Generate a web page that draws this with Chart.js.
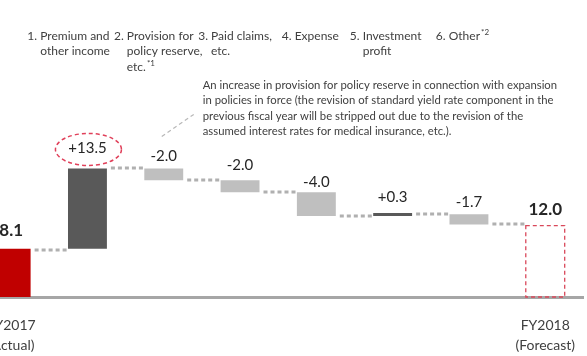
<!DOCTYPE html>
<html>
<head>
<meta charset="utf-8">
<script src="https://cdn.jsdelivr.net/npm/chart.js@4.4.0/dist/chart.umd.min.js"></script>
<style>
  html, body { margin: 0; padding: 0; background: #fff; overflow: hidden; }
  #wrap { position: relative; width: 587px; height: 356px; overflow: hidden; }
  /* the first bar is cut off by the left edge in the original slide */
  #myChart { position: absolute; left: -31px; top: 0; }
</style>
</head>
<body>
<div id="wrap"><canvas id="myChart" width="624" height="356"></canvas></div>
<script>
// chart data
const categories = ['FY2017 (Actual)', 'Premium and other income', 'Provision for policy reserve, etc.',
  'Paid claims, etc.', 'Expense', 'Investment profit', 'Other', 'FY2018 (Forecast)'];
const tickLabels = [['FY2017', '(Actual)'], '', '', '', '', '', '', ['FY2018', '(Forecast)']];
const startValue = 8.1;
const changes = [13.5, -2.0, -2.0, -4.0, 0.3, -1.7];
const endValue = 12.0;
const valueLabels = ['8.1', '+13.5', '-2.0', '-2.0', '-4.0', '+0.3', '-1.7', '12.0'];

// header text above the steps, [text, superscript]
const topLabels = [
  null,
  [['1. Premium and'], ['other income']],
  [['2. Provision for'], ['policy reserve,'], ['etc.', '*1']],
  [['3. Paid claims,'], ['etc.']],
  [['4. Expense']],
  [['5. Investment'], ['profit']],
  [['6. Other', '*2']],
  null
];
const noteLines = [
  'An increase in provision for policy reserve in connection with expansion',
  'in policies in force (the revision of standard yield rate component in the',
  'previous fiscal year will be stripped out due to the revision of the',
  'assumed interest rates for medical insurance, etc.).'
];

// build floating bars from the running total
let running = startValue;
const bars = [[0, startValue]];
const levels = [startValue];
changes.forEach(c => {
  bars.push([running, running + c]);
  running = running + c;
  levels.push(running);
});
bars.push([0, endValue]);
levels.push(endValue);

const barColors = ['#c00000', '#595959', '#bfbfbf', '#bfbfbf', '#bfbfbf', '#595959', '#bfbfbf', 'rgba(0,0,0,0)'];

const FONT = 'Lato, "Open Sans", sans-serif';
// nudge of each header label from its bar centre
const headerShift = [0, -19, -10, -5, -6, -7, -11, 0];
// space between a bar top and its value label
const labelGap = [10, 13, 5, 8, 3, 8, 5, 8];

// draws connectors, labels and notes from the bar elements
const waterfallExtras = {
  id: 'waterfallExtras',
  afterDatasetsDraw(chart) {
    const ctx = chart.ctx;
    const meta = chart.getDatasetMeta(0);
    const y = chart.scales.y;
    const els = meta.data;
    ctx.save();

    // dotted connectors
    ctx.strokeStyle = '#b0b0b0';
    ctx.lineWidth = 3;
    ctx.setLineDash([4, 3]);
    for (let i = 0; i < els.length - 1; i++) {
      const a = els[i], b = els[i + 1];
      const py = Math.round(y.getPixelForValue(levels[i])) + (i === 0 ? 1 : 0);
      ctx.beginPath();
      ctx.moveTo(a.x + a.width / 2 + 4, py);
      ctx.lineTo(b.x - b.width / 2, py);
      ctx.stroke();
    }

    // forecast bar: dashed outline
    const last = els[els.length - 1];
    ctx.strokeStyle = '#d9485a';
    ctx.lineWidth = 1.3;
    ctx.setLineDash([4, 3]);
    ctx.strokeRect(last.x - last.width / 2, last.y, last.width, last.base - last.y);

    // value labels
    ctx.setLineDash([]);
    ctx.textAlign = 'center';
    ctx.textBaseline = 'bottom';
    ctx.fillStyle = '#262626';
    els.forEach((el, i) => {
      const bold = i === 0 || i === els.length - 1;
      ctx.font = (bold ? 'bold 17px ' : '15px ') + FONT;
      const top = Math.min(el.y, el.base);
      ctx.fillText(valueLabels[i], el.x, top - labelGap[i]);
    });

    // red dashed ellipse around the premium step
    const p = els[1];
    ctx.strokeStyle = '#e0405a';
    ctx.lineWidth = 1.5;
    ctx.setLineDash([4, 3]);
    ctx.beginPath();
    ctx.ellipse(p.x + 1, p.y - 19, 33, 16, 0, 0, Math.PI * 2);
    ctx.stroke();

    // leader line to the note
    const q = els[2];
    ctx.strokeStyle = '#b8b8b8';
    ctx.lineWidth = 1.2;
    ctx.setLineDash([4, 3]);
    ctx.beginPath();
    ctx.moveTo(q.x - 2, q.y - 32);
    ctx.lineTo(q.x + 30, q.y - 54);
    ctx.stroke();

    // note text
    ctx.setLineDash([]);
    ctx.fillStyle = '#404040';
    ctx.textAlign = 'left';
    ctx.textBaseline = 'middle';
    ctx.font = '11.3px ' + FONT;
    noteLines.forEach((t, k) => ctx.fillText(t, q.x + 39, 85 + k * 15.5));

    // header labels
    topLabels.forEach((lines, i) => {
      if (!lines) return;
      const el = els[i];
      ctx.font = '12px ' + FONT;
      const firstW = ctx.measureText(lines[0][0]).width;
      const left = el.x + headerShift[i] - firstW / 2;
      const indent = ctx.measureText(lines[0][0].slice(0, 3)).width;
      lines.forEach((ln, k) => {
        const lx = k === 0 ? left : left + indent;
        const ly = 36 + k * 15.5;
        ctx.font = '12px ' + FONT;
        ctx.fillText(ln[0], lx, ly);
        if (ln[1]) {
          const w = ctx.measureText(ln[0]).width;
          ctx.font = '8px ' + FONT;
          ctx.fillText(ln[1], lx + w + 1, ly - 4);
        }
      });
    });
    ctx.restore();
  }
};

const data = {
  labels: categories,
  datasets: [{
    data: bars,
    backgroundColor: barColors,
    borderWidth: 0,
    barPercentage: 0.51,
    categoryPercentage: 1,
    minBarLength: 3
  }]
};

const config = {
  type: 'bar',
  data: data,
  options: {
    responsive: false,
    animation: false,
    layout: { padding: { top: 0, left: 0, right: 3, bottom: -17 } },
    plugins: { legend: { display: false }, tooltip: { enabled: false } },
    scales: {
      x: {
        grid: { display: false, drawTicks: false },
        border: { display: true, color: '#a6a6a6', width: 3 },
        ticks: {
          autoSkip: false,
          maxRotation: 0,
          padding: 18,
          color: '#404040',
          font: { family: 'Lato', size: 14, lineHeight: '20px' },
          callback: (v, i) => tickLabels[i]
        }
      },
      y: {
        display: false,
        min: 0,
        max: 49.9
      }
    }
  },
  plugins: [waterfallExtras]
};

const myChart = new Chart(document.getElementById('myChart'), config);
</script>
</body>
</html>
